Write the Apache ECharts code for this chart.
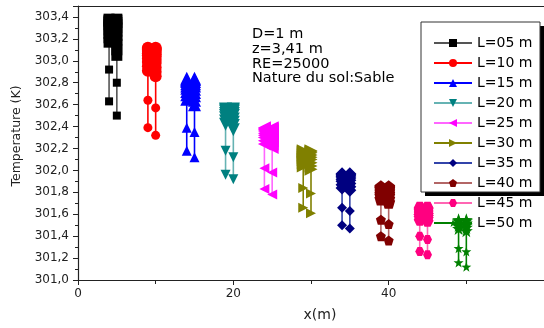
<!DOCTYPE html>
<html>
<head>
<meta charset="utf-8">
<script src="https://cdn.jsdelivr.net/npm/echarts@6/dist/echarts.min.js"></script>
<style>
html,body{margin:0;padding:0;background:#fff;}
#chart{width:544px;height:328px;}
</style>
</head>
<body>
<div id="chart"></div>
<script>
// Series names (legend)
const names = ['L=05 m','L=10 m','L=15 m','L=20 m','L=25 m','L=30 m','L=35 m','L=40 m','L=45 m','L=50 m'];
// x positions (m) of the two columns of each series
const xLeft  = [4, 9, 14, 19, 24, 29, 34, 39, 44, 49];
const xRight = [5, 10, 15, 20, 25, 30, 35, 40, 45, 50];
// Temperatures (K), left column of each series
const L05_left  = [302.63, 302.92, 303.17, 303.21, 303.25, 303.28, 303.31, 303.33, 303.35, 303.36, 303.37, 303.38];
const L10_left  = [302.39, 302.64, 302.91, 302.95, 302.99, 303.02, 303.05, 303.07, 303.09, 303.10, 303.11, 303.12];
const L15_left  = [302.18, 302.39, 302.65, 302.69, 302.72, 302.75, 302.77, 302.79, 302.81, 302.82, 302.83, 302.84];
const L20_left  = [301.96, 302.18, 302.42, 302.45, 302.48, 302.50, 302.52, 302.54, 302.55, 302.56];
const L25_left  = [301.83, 302.02, 302.24, 302.27, 302.30, 302.32, 302.34, 302.36, 302.37, 302.38, 302.39];
const L30_left  = [301.66, 301.84, 302.04, 302.07, 302.10, 302.12, 302.14, 302.16, 302.17, 302.18];
const L35_left  = [301.50, 301.66, 301.84, 301.87, 301.90, 301.92, 301.94, 301.95, 301.96, 301.97];
const L40_left  = [301.40, 301.55, 301.74, 301.77, 301.79, 301.81, 301.83, 301.84, 301.85];
const L45_left  = [301.26, 301.40, 301.55, 301.58, 301.60, 301.62, 301.64, 301.65, 301.66];
const L50_left  = [301.16, 301.29, 301.47, 301.50, 301.52, 301.54, 301.55];
// Temperatures (K), right column of each series
const L05_right = [302.50, 302.80, 303.05, 303.10, 303.15, 303.19, 303.23, 303.27, 303.30, 303.33, 303.35, 303.37, 303.38];
const L10_right = [302.32, 302.57, 302.86, 302.90, 302.94, 302.98, 303.01, 303.04, 303.06, 303.08, 303.10, 303.11, 303.12];
const L15_right = [302.12, 302.35, 302.60, 302.64, 302.68, 302.71, 302.74, 302.77, 302.79, 302.81, 302.83, 302.84];
const L20_right = [301.92, 302.12, 302.37, 302.41, 302.44, 302.47, 302.50, 302.52, 302.54, 302.55, 302.56];
const L25_right = [301.78, 301.98, 302.21, 302.24, 302.27, 302.30, 302.32, 302.34, 302.36, 302.37, 302.38, 302.39];
const L30_right = [301.61, 301.79, 302.01, 302.04, 302.07, 302.10, 302.12, 302.14, 302.16, 302.17, 302.18];
const L35_right = [301.47, 301.63, 301.82, 301.85, 301.88, 301.91, 301.93, 301.95, 301.96, 301.97];
const L40_right = [301.36, 301.51, 301.71, 301.74, 301.77, 301.79, 301.81, 301.83, 301.84, 301.85];
const L45_right = [301.23, 301.37, 301.54, 301.57, 301.59, 301.61, 301.63, 301.65, 301.66];
const L50_right = [301.12, 301.26, 301.45, 301.48, 301.50, 301.52, 301.54, 301.55];
// Annotation text
const noteLines = ['D=1 m', 'z=3,41 m', 'RE=25000', 'Nature du sol:Sable'];

const leftCols  = [L05_left, L10_left, L15_left, L20_left, L25_left, L30_left, L35_left, L40_left, L45_left, L50_left];
const rightCols = [L05_right, L10_right, L15_right, L20_right, L25_right, L30_right, L35_right, L40_right, L45_right, L50_right];

const FONT = 'DejaVu Sans';
const pentagon = 'path://M0,-10 L9.51,-3.09 L5.88,8.09 L-5.88,8.09 L-9.51,-3.09 Z';
const hexagon = 'path://M-5,-8.66 L5,-8.66 L10,0 L5,8.66 L-5,8.66 L-10,0 Z';
const star = 'path://M0,-10 L2.35,-3.24 L9.51,-3.09 L3.8,1.24 L5.88,8.09 L0,4 L-5.88,8.09 L-3.8,1.24 L-9.51,-3.09 L-2.35,-3.24 Z';
const styles = [
  {color:'#000000', line:'#555555', symbol:'rect', size:8, rot:0},
  {color:'#FF0000', line:'#FF0000', symbol:'circle', size:9, rot:0},
  {color:'#0000FF', line:'#0000FF', symbol:'triangle', size:10, rot:0},
  {color:'#008080', line:'#66B3B3', symbol:'triangle', size:10, rot:180},
  {color:'#FF00FF', line:'#FF66FF', symbol:'triangle', size:10, rot:90},
  {color:'#808000', line:'#808000', symbol:'triangle', size:10, rot:-90},
  {color:'#000080', line:'#3344AA', symbol:'diamond', size:10, rot:0},
  {color:'#800000', line:'#B36666', symbol:pentagon, size:10, rot:0},
  {color:'#FF0080', line:'#FF66B3', symbol:hexagon, size:9, rot:0},
  {color:'#008000', line:'#008000', symbol:star, size:10, rot:0}
];

const series = [];
names.forEach((nm, i) => {
  const st = styles[i];
  [[xLeft[i], leftCols[i]], [xRight[i], rightCols[i]]].forEach(([xv, vals]) => {
    series.push({
      type:'line', name:nm,
      data: vals.map(v => [xv, v]),
      symbol: st.symbol,
      symbolSize: (val, p) => p.dataIndex >= 2 ? st.size + 3 : st.size,
      symbolRotate: st.rot,
      showAllSymbol: true,
      itemStyle:{color: st.color, opacity:1},
      lineStyle:{color: st.line, width:1.6},
      emphasis:{disabled:true},
      z: 2
    });
  });
});

const chart = echarts.init(document.getElementById('chart'), null, {renderer:'canvas'});
chart.setOption({
  animation:false,
  backgroundColor:'#fff',
  grid:{left:78, top:6, right:-16, bottom:48, containLabel:false},
  xAxis:[{
    type:'value', min:0, max:60, interval:20,
    name:'x(m)', nameLocation:'middle', nameGap:28,
    nameTextStyle:{fontFamily:FONT, fontSize:14, color:'#222', padding:[0,0,0,18]},
    axisLine:{show:true, lineStyle:{color:'#222', width:1.2}},
    axisTick:{show:true, length:5, lineStyle:{color:'#222'}},
    minorTick:{show:true, splitNumber:2, length:4, lineStyle:{color:'#222'}},
    axisLabel:{fontFamily:FONT, fontSize:12, color:'#222', margin:8, showMaxLabel:false},
    splitLine:{show:false}
  },{
    type:'value', min:0, max:60, position:'top',
    axisLine:{show:true, onZero:false, lineStyle:{color:'#222', width:1.2}},
    axisTick:{show:false}, axisLabel:{show:false}, splitLine:{show:false}
  }],
  yAxis:{
    type:'value', min:301, max:303.5, interval:0.2,
    name:'Temperature (K)', nameLocation:'middle', nameGap:47,
    nameTextStyle:{fontFamily:FONT, fontSize:12.5, color:'#222', padding:[0,0,0,14]},
    axisLine:{show:true, lineStyle:{color:'#222', width:1.2}},
    axisTick:{show:true, length:5, lineStyle:{color:'#222'}},
    minorTick:{show:true, splitNumber:2, length:3, lineStyle:{color:'#222'}},
    axisLabel:{fontFamily:FONT, fontSize:12, color:'#222', margin:9, showMaxLabel:false,
      formatter: v => v.toFixed(1).replace('.', ',')},
    splitLine:{show:false}
  },
  legend:{
    data: names, orient:'vertical', left:433, top:36, padding:0,
    itemWidth:38, itemHeight:10, itemGap:6, selectedMode:false,
    textStyle:{fontFamily:FONT, fontSize:14, color:'#000', lineHeight:10}
  },
  graphic:[
    {type:'rect', shape:{x:425, y:26, width:119, height:170}, style:{fill:'#000'}, z:1, silent:true},
    {type:'rect', shape:{x:421, y:22, width:119, height:170}, style:{fill:'#fff', stroke:'#333', lineWidth:1}, z:1, silent:true},
    {type:'text', left:252, top:27, z:5, silent:true,
      style:{text: noteLines.join('\n'), font:'14.5px "DejaVu Sans"', lineHeight:14.7, fill:'#000'}}
  ],
  series: series
});
</script>
</body>
</html>
